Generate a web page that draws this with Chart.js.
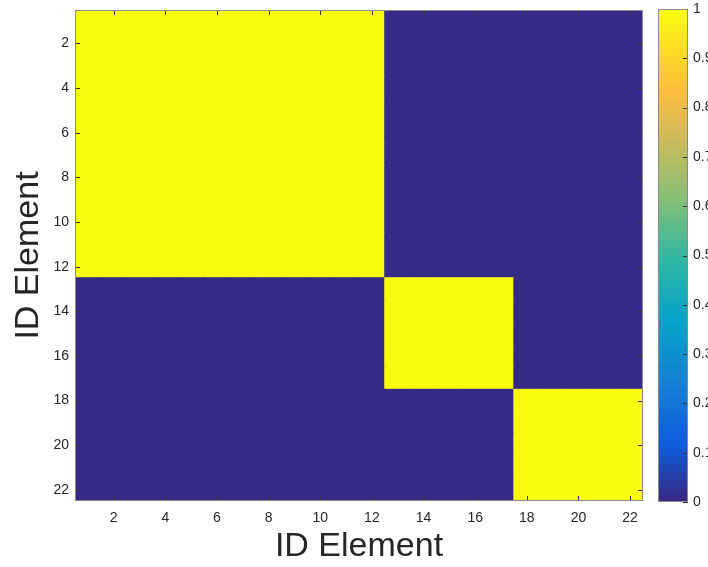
<!DOCTYPE html>
<html>
<head>
<meta charset="utf-8">
<script src="https://cdn.jsdelivr.net/npm/chart.js@4"></script>
<style>
  body { margin: 0; background: #fff; }
  #wrap { position: relative; width: 708px; height: 567px; overflow: hidden; }
  #main { position: absolute; left: 0; top: 0; }
  #cbar { position: absolute; left: 640px; top: 0; }
</style>
</head>
<body>
<div id="wrap">
  <canvas id="main" width="708" height="567"></canvas>
  <canvas id="cbar" width="120" height="567"></canvas>
</div>
<script>
// element ids on both axes
const ids = [1, 2, 3, 4, 5, 6, 7, 8, 9, 10, 11, 12, 13, 14, 15, 16, 17, 18, 19, 20, 21, 22]
const xTicks = [2, 4, 6, 8, 10, 12, 14, 16, 18, 20, 22]
const yTicks = [2, 4, 6, 8, 10, 12, 14, 16, 18, 20, 22]
const cbTicks = [0, 0.1, 0.2, 0.3, 0.4, 0.5, 0.6, 0.7, 0.8, 0.9, 1]

// same-group matrix (row = element, col = element)
const sim = [
  [1,1,1,1,1,1,1,1,1,1,1,1,0,0,0,0,0,0,0,0,0,0],
  [1,1,1,1,1,1,1,1,1,1,1,1,0,0,0,0,0,0,0,0,0,0],
  [1,1,1,1,1,1,1,1,1,1,1,1,0,0,0,0,0,0,0,0,0,0],
  [1,1,1,1,1,1,1,1,1,1,1,1,0,0,0,0,0,0,0,0,0,0],
  [1,1,1,1,1,1,1,1,1,1,1,1,0,0,0,0,0,0,0,0,0,0],
  [1,1,1,1,1,1,1,1,1,1,1,1,0,0,0,0,0,0,0,0,0,0],
  [1,1,1,1,1,1,1,1,1,1,1,1,0,0,0,0,0,0,0,0,0,0],
  [1,1,1,1,1,1,1,1,1,1,1,1,0,0,0,0,0,0,0,0,0,0],
  [1,1,1,1,1,1,1,1,1,1,1,1,0,0,0,0,0,0,0,0,0,0],
  [1,1,1,1,1,1,1,1,1,1,1,1,0,0,0,0,0,0,0,0,0,0],
  [1,1,1,1,1,1,1,1,1,1,1,1,0,0,0,0,0,0,0,0,0,0],
  [1,1,1,1,1,1,1,1,1,1,1,1,0,0,0,0,0,0,0,0,0,0],
  [0,0,0,0,0,0,0,0,0,0,0,0,1,1,1,1,1,0,0,0,0,0],
  [0,0,0,0,0,0,0,0,0,0,0,0,1,1,1,1,1,0,0,0,0,0],
  [0,0,0,0,0,0,0,0,0,0,0,0,1,1,1,1,1,0,0,0,0,0],
  [0,0,0,0,0,0,0,0,0,0,0,0,1,1,1,1,1,0,0,0,0,0],
  [0,0,0,0,0,0,0,0,0,0,0,0,1,1,1,1,1,0,0,0,0,0],
  [0,0,0,0,0,0,0,0,0,0,0,0,0,0,0,0,0,1,1,1,1,1],
  [0,0,0,0,0,0,0,0,0,0,0,0,0,0,0,0,0,1,1,1,1,1],
  [0,0,0,0,0,0,0,0,0,0,0,0,0,0,0,0,0,1,1,1,1,1],
  [0,0,0,0,0,0,0,0,0,0,0,0,0,0,0,0,0,1,1,1,1,1],
  [0,0,0,0,0,0,0,0,0,0,0,0,0,0,0,0,0,1,1,1,1,1]
]

// parula, a few anchor rows of the 64 colour map
const parulaAnchors = [
  [0, 0.2081, 0.1663, 0.5292],
  [7, 0.0591, 0.3598, 0.8683],
  [15, 0.0779, 0.5040, 0.8384],
  [23, 0.0231, 0.6418, 0.7913],
  [31, 0.1801, 0.7177, 0.6424],
  [39, 0.5300, 0.7491, 0.4661],
  [47, 0.8185, 0.7327, 0.3498],
  [53, 0.9938, 0.7455, 0.2403],
  [55, 0.9955, 0.7861, 0.1967],
  [63, 0.9763, 0.9831, 0.0538]
]

function parula(t) {
  const k = Math.max(0, Math.min(1, t)) * 63
  let i = 0
  while (i < parulaAnchors.length - 2 && parulaAnchors[i + 1][0] < k) i++
  const a = parulaAnchors[i], b = parulaAnchors[i + 1]
  const f = (k - a[0]) / (b[0] - a[0])
  const c = [1, 2, 3].map(j => Math.round(255 * (a[j] + f * (b[j] - a[j]))))
  return `rgb(${c[0]},${c[1]},${c[2]})`
}

const txt = '#262626'
const tickFont = { family: 'Liberation Sans, Arial, sans-serif', size: 14 }
const titleFont = { family: 'Liberation Sans, Arial, sans-serif', size: 34 }

const cells = []
sim.forEach((row, r) => {
  row.forEach((v, c) => {
    cells.push({ y: ids[r], x: [ids[c] - 0.5, ids[c] + 0.5], v: v })
  })
})

// matlab style box with ticks pointing inwards
const boxTicks = {
  id: 'boxTicks',
  afterDatasetsDraw(chart, args, opts) {
    const { ctx, chartArea: a } = chart
    const len = 5
    ctx.save()
    ctx.strokeStyle = '#333'
    ctx.lineWidth = 1
    ctx.beginPath()
    if (opts.x) {
      opts.x.forEach(v => {
        const px = Math.round(chart.scales.x.getPixelForValue(v)) + 0.5
        ctx.moveTo(px, a.bottom); ctx.lineTo(px, a.bottom - len)
        ctx.moveTo(px, a.top); ctx.lineTo(px, a.top + len)
      })
    }
    opts.y.forEach(v => {
      const py = Math.round(chart.scales.y.getPixelForValue(v)) + 0.5
      if (opts.left) { ctx.moveTo(a.left, py); ctx.lineTo(a.left + len, py) }
      ctx.moveTo(a.right, py); ctx.lineTo(a.right - len, py)
    })
    ctx.stroke()
    ctx.strokeStyle = '#8a8a8a'
    ctx.strokeRect(Math.round(a.left) + 0.5, Math.round(a.top) + 0.5,
      Math.round(a.right - a.left) - 1, Math.round(a.bottom - a.top) - 1)
    ctx.restore()
  }
}

new Chart(document.getElementById('main'), {
  type: 'bar',
  data: {
    datasets: [{
      data: cells,
      backgroundColor: ctx => parula(ctx.raw ? ctx.raw.v : 0),
      borderWidth: 0,
      inflateAmount: 0.6,
      grouped: false,
      barPercentage: 1,
      categoryPercentage: 1
    }]
  },
  options: {
    indexAxis: 'y',
    responsive: false,
    animation: false,
    layout: { padding: { top: 10, right: 65, left: 0, bottom: 0 } },
    plugins: {
      legend: { display: false },
      tooltip: { enabled: false },
      boxTicks: { x: xTicks, y: yTicks, left: true }
    },
    scales: {
      x: {
        type: 'linear', min: 0.5, max: 22.5, offset: false,
        afterBuildTicks: s => { s.ticks = xTicks.map(v => ({ value: v })) },
        afterFit: s => { s.height = 66 },
        grid: { display: false, drawTicks: false, offset: false },
        border: { display: false },
        ticks: { font: tickFont, color: txt, padding: 9, maxRotation: 0 },
        title: { display: true, text: 'ID Element', font: titleFont, color: txt, padding: { top: 0, bottom: 0 } }
      },
      y: {
        type: 'linear', min: 0.5, max: 22.5, reverse: true, offset: false,
        afterBuildTicks: s => { s.ticks = yTicks.map(v => ({ value: v })) },
        afterFit: s => { s.width = 75; s.paddingTop = 0; s.paddingBottom = 0 },
        grid: { display: false, drawTicks: false, offset: false },
        border: { display: false },
        ticks: { font: tickFont, color: txt, padding: 6 },
        title: { display: true, text: 'ID Element', font: titleFont, color: txt, padding: { top: 8, bottom: 0 } }
      }
    }
  },
  plugins: [boxTicks]
})

// colour bar, 64 steps
const cbLevels = []
for (let k = 0; k < 64; k++) cbLevels.push({ x: 'cb', y: [k / 64, (k + 1) / 64], c: parula(k / 63) })

new Chart(document.getElementById('cbar'), {
  type: 'bar',
  data: {
    labels: ['cb'],
    datasets: [{
      data: cbLevels,
      backgroundColor: ctx => ctx.raw ? ctx.raw.c : '#000',
      borderWidth: 0,
      inflateAmount: 0.6,
      grouped: false,
      barPercentage: 1,
      categoryPercentage: 1
    }]
  },
  options: {
    responsive: false,
    animation: false,
    layout: { padding: { top: 9, left: 18, bottom: 65, right: 0 } },
    plugins: {
      legend: { display: false },
      tooltip: { enabled: false },
      boxTicks: { y: cbTicks, left: false }
    },
    scales: {
      x: { display: false },
      y: {
        type: 'linear', position: 'right', min: 0, max: 1,
        afterBuildTicks: s => { s.ticks = cbTicks.map(v => ({ value: v })) },
        afterFit: s => { s.width = 72; s.paddingTop = 0; s.paddingBottom = 0 },
        grid: { display: false, drawTicks: false },
        border: { display: false },
        ticks: { font: tickFont, color: txt, padding: 5, callback: v => String(v) }
      }
    }
  },
  plugins: [boxTicks]
})
</script>
</body>
</html>
